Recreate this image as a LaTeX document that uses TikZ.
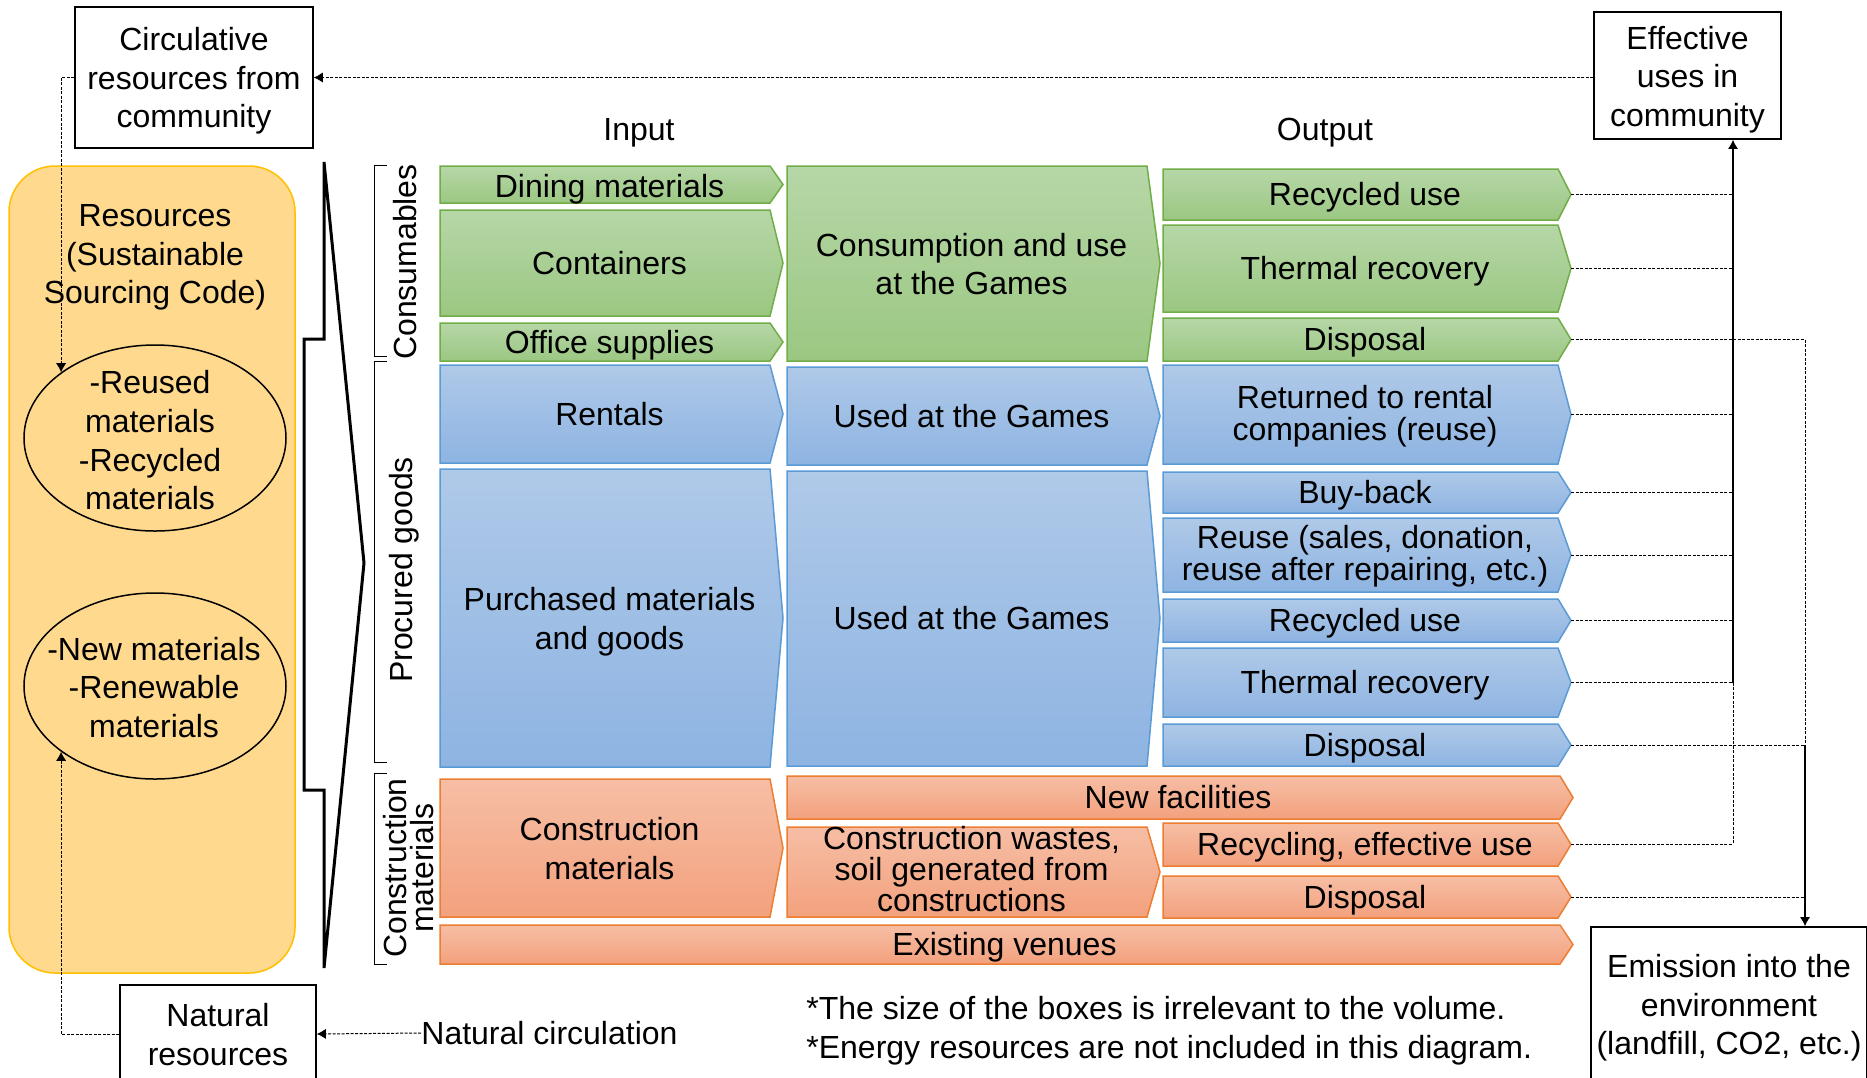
\documentclass[tikz,border=0pt]{standalone}
\usepackage{fontspec}
\setmainfont{Liberation Sans}
\usepackage{tikz}
\usetikzlibrary{arrows.meta, shapes.geometric}
\tikzset{>={Latex[width=1.8mm,length=1.6mm]}}
\definecolor{greenTop}{RGB}{182,215,167}
\definecolor{greenBot}{RGB}{155,199,130}
\definecolor{greenLine}{RGB}{112,173,71}
\definecolor{blueTop}{RGB}{175,201,232}
\definecolor{blueBot}{RGB}{142,180,226}
\definecolor{blueLine}{RGB}{91,155,213}
\definecolor{orangeTop}{RGB}{246,190,165}
\definecolor{orangeBot}{RGB}{243,161,125}
\definecolor{orangeLine}{RGB}{237,125,49}
\definecolor{poolFill}{RGB}{254,217,142}
\definecolor{poolLine}{RGB}{255,192,0}
\newcommand{\chevron}[8][]{%
  \draw[#2] (#4,#5) -- ({#6-13},#5) -- (#6,{(#5+#7)/2}) -- ({#6-13},#7) -- (#4,#7) -- cycle;
  \node[boxtext,#1] (#3) at ({(#4+#6)/2-2},{(#5+#7)/2}) {#8};
  \coordinate (#3-tip) at (#6,{(#5+#7)/2});
}
\newcommand{\framed}[3]{\raisebox{#1}[\height][\depth]{\parbox{#2}{\centering #3}}}

\begin{document}
\begin{tikzpicture}[
    x = 0.5pt, y = -0.5pt,
    font = \fontsize{16}{19.3}\selectfont,
    greenbox/.style = {draw=greenLine, line width=0.75pt, top color=greenTop, bottom color=greenBot},
    bluebox/.style = {draw=blueLine, line width=0.75pt, top color=blueTop, bottom color=blueBot},
    orangebox/.style = {draw=orangeLine, line width=0.75pt, top color=orangeTop, bottom color=orangeBot},
    ppt/.style = {execute at begin node={\rule{0pt}{0.905em}},
        execute at end node={\rule[-0.212em]{0pt}{0.212em}}},
    boxtext/.style = {ppt, align=center, inner sep=0pt},
    lines/.style = {yshift=-1.8pt},
    tight/.style = {font=\fontsize{16}{16}\selectfont},
    frame/.style = {draw, line width=0.75pt, inner sep=0pt},
    bubble/.style = {ellipse, draw, line width=0.75pt, inner sep=0pt,
        minimum width=131pt, minimum height=93pt},
    link/.style = {dash pattern=on 1.5pt off 0.75pt, line width=0.5pt},
    flow/.style = {->, line width=0.75pt},
    bracket/.style = {line width=0.5pt},
    side/.style = {rotate=90, anchor=base, inner sep=0pt}
  ]
  \useasboundingbox (0,0) rectangle (1867,1077);
  \clip (0,0) rectangle (1867,1077);

  \draw[fill=poolFill, draw=poolLine, line width=0.75pt, rounded corners=23pt] (9,166) rectangle (295,973);
  \node[boxtext, lines] (resources) at (155,254) {Resources\\(Sustainable\\Sourcing Code)};
  \node[bubble] (reused) at (155,438) {};
  \node[boxtext, lines] (reusedtext) at (150,440) {-Reused\\materials\\-Recycled\\materials};
  \node[bubble] (newmat) at (155,686) {};
  \node[boxtext, lines] (newmattext) at (154,687) {-New materials\\-Renewable\\materials};

  \node[frame, minimum width=119pt, minimum height=70.5pt] (circ) at (194,77.5)
    {\framed{-1.8pt}{119pt}{Circulative\\resources from\\community}};
  \node[frame, minimum width=93.5pt, minimum height=63.5pt] (eff) at (1687.5,75.5)
    {\framed{-2pt}{93.5pt}{Effective\\uses in\\community}};
  \node[frame, minimum width=98pt, minimum height=49pt] (nat) at (218,1034)
    {\framed{-0.3pt}{98pt}{Natural\\resources}};
  \node[frame, minimum width=138pt, minimum height=79pt] (emis) at (1729,1006)
    {\framed{-0.9pt}{138pt}{Emission into the\\environment\\(landfill, CO2, etc.)}};
  \node[ppt, anchor=west, inner sep=0pt] (natcirc) at (421,1033) {Natural circulation};
  \node[ppt, lines, anchor=west, align=left, inner sep=0pt] (note) at (806,1027)
    {*The size of the boxes is irrelevant to the volume.\\*Energy resources are not included in this diagram.};
  \node[ppt, inner sep=0pt] (input) at (639,129) {Input};
  \node[ppt, inner sep=0pt] (output) at (1325,129) {Output};

  \draw[line width=1.5pt] (324,162) -- (364,563) -- (324,968) -- (324,790) -- (304,790)
    -- (304,339) -- (324,339) -- cycle;

  \draw[bracket] (387,165) -| (374,356) -- (387,356);
  \draw[bracket] (387,361) -| (374,762) -- (387,762);
  \draw[bracket] (387,773) -| (374,964) -- (387,964);
  \node[side] (consum) at (416,262) {Consumables};
  \node[side] (procur) at (412,570) {Procured goods};
  \node[rotate=90, align=center, inner sep=0pt, font=\fontsize{16}{13.5}\selectfont] (constr) at (409,868) {Construction\\materials};

  \chevron[yshift=-0.8pt]{greenbox}{dining}{440}{166}{783}{203}{Dining materials}
  \chevron{greenbox}{contain}{440}{210}{783}{316}{Containers}
  \chevron{greenbox}{office}{440}{323}{783}{361}{Office supplies}
  \chevron{bluebox}{rent}{440}{365}{783}{463}{Rentals}
  \chevron[lines]{bluebox}{purch}{440}{469}{783}{767}{Purchased materials\\and goods}
  \chevron[lines]{orangebox}{cmat}{440}{779}{783}{917}{Construction\\materials}
  \chevron{orangebox}{exist}{440}{925}{1573}{964}{Existing venues}

  \chevron[lines]{greenbox}{consume}{787}{166}{1160}{361}{Consumption and use\\at the Games}
  \chevron{bluebox}{useA}{787}{367}{1160}{465}{Used at the Games}
  \chevron{bluebox}{useB}{787}{471}{1160}{766}{Used at the Games}
  \chevron{orangebox}{newfac}{787}{776}{1573}{819}{New facilities}
  \chevron[font=\fontsize{16}{15.5}\selectfont]{orangebox}{waste}{787}{827}{1160}{917}{Construction wastes,\\soil generated from\\constructions}

  \chevron{greenbox}{recA}{1163}{169}{1571}{220}{Recycled use}
  \chevron{greenbox}{thermA}{1163}{225}{1571}{312}{Thermal recovery}
  \chevron{greenbox}{dispA}{1163}{318}{1571}{361}{Disposal}
  \chevron[tight, yshift=-0.8pt]{bluebox}{retrn}{1163}{365}{1571}{464}{Returned to rental\\companies (reuse)}
  \chevron{bluebox}{buyback}{1163}{472}{1571}{513}{Buy-back}
  \chevron[tight, yshift=-0.5pt]{bluebox}{reuse}{1163}{518}{1571}{592}{Reuse (sales, donation,\\reuse after repairing, etc.)}
  \chevron{bluebox}{recB}{1163}{599}{1571}{642}{Recycled use}
  \chevron{bluebox}{thermB}{1163}{648}{1571}{717}{Thermal recovery}
  \chevron{bluebox}{dispB}{1163}{724}{1571}{766}{Disposal}
  \chevron{orangebox}{receff}{1163}{823}{1571}{866}{Recycling, effective use}
  \chevron{orangebox}{dispC}{1163}{876}{1571}{918}{Disposal}

  \coordinate (effbus) at (1733,0);
  \coordinate (dispbus) at (1805,0);
  \foreach \n in {recA,thermA,retrn,buyback,reuse,recB,thermB,receff}
    \draw[link] (\n-tip) -- (\n-tip -| effbus);
  \draw[link] (thermB-tip -| effbus) -- (receff-tip -| effbus);
  \draw[flow] (thermB-tip -| effbus) -- (eff.south -| effbus);
  \foreach \n in {dispA,dispB,dispC}
    \draw[link] (\n-tip) -- (\n-tip -| dispbus);
  \draw[link] (dispA-tip -| dispbus) -- (dispB-tip -| dispbus);
  \draw[flow] (dispB-tip -| dispbus) -- (emis.north -| dispbus);

  \draw[link, ->] (circ.east -| eff.west) -- (circ.east);
  \draw[link, ->] (circ.west) -| (reused.145);
  \draw[link, ->] (nat.west) -| (newmat.215);
  \draw[link, ->] (natcirc.west) -- (nat.east);
\end{tikzpicture}
\end{document}
